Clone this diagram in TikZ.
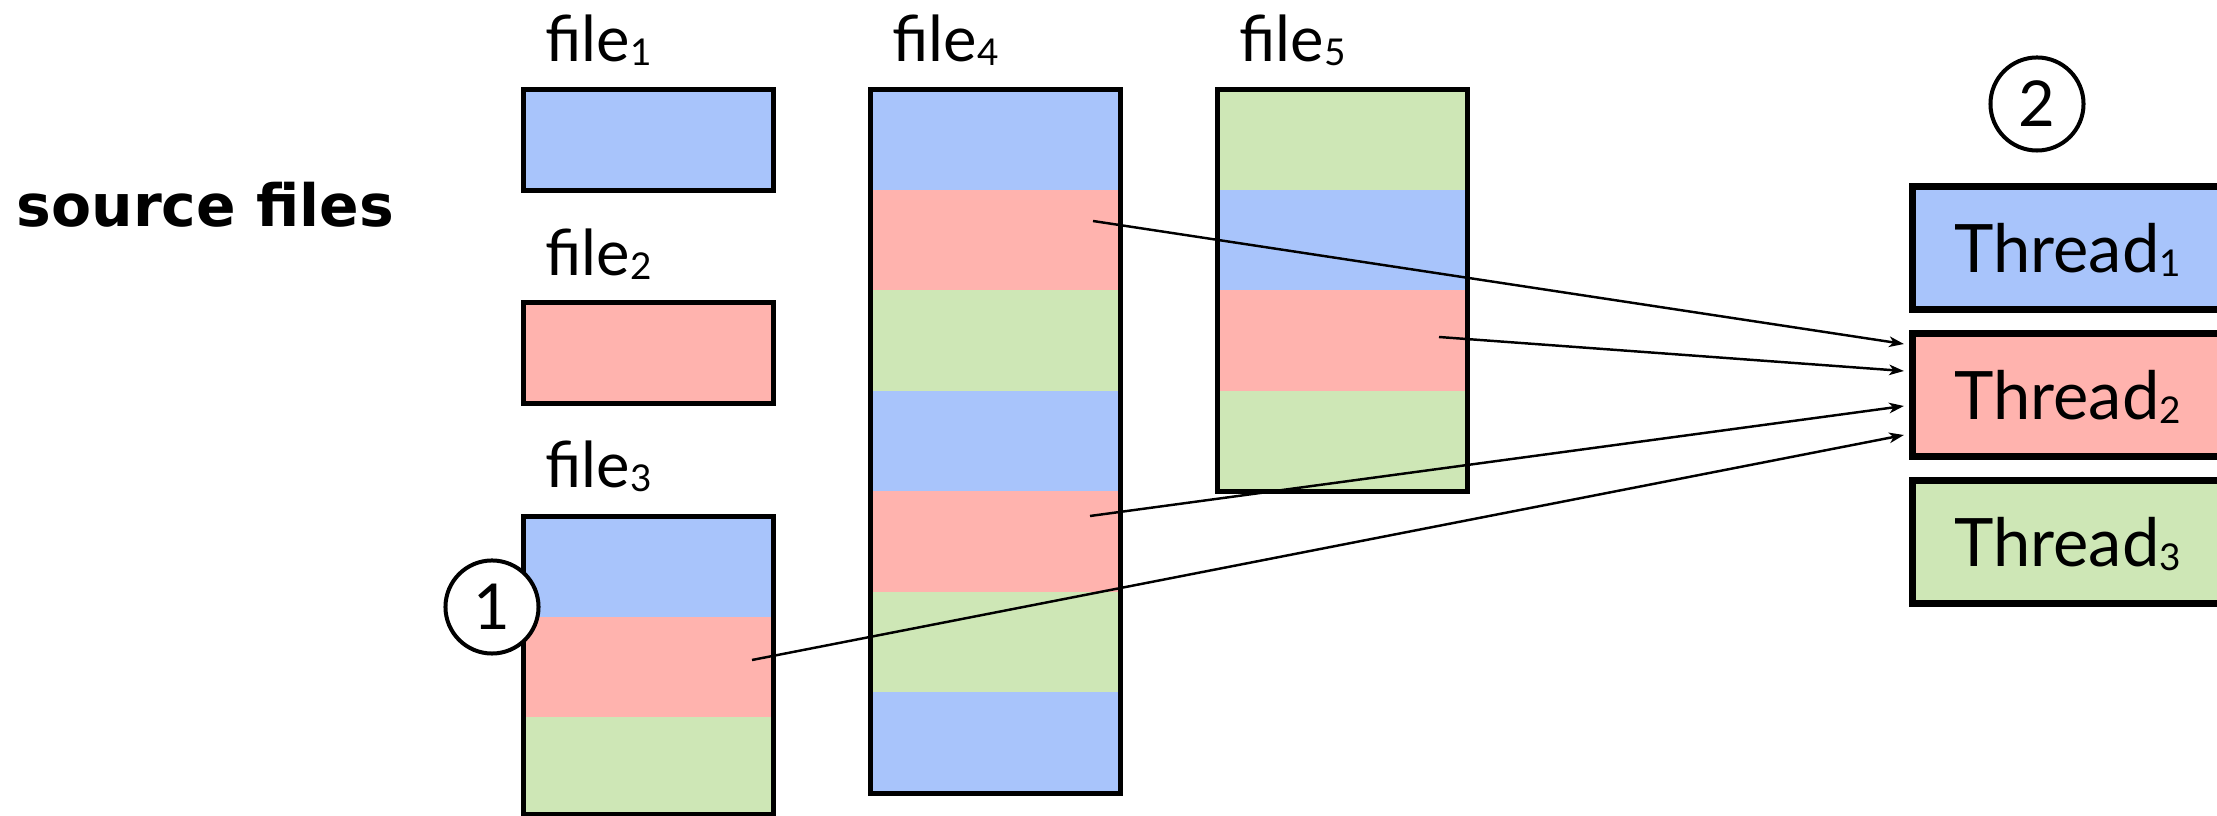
\documentclass[tikz,border=0pt]{standalone}
\usepackage{fontspec}
\setmainfont{Lato}
\newfontfamily\srcfont{DejaVu Sans}
\usetikzlibrary{arrows.meta,calc}
\definecolor{cblue}{RGB}{168,196,251}
\definecolor{cred}{RGB}{255,179,174}
\definecolor{cgreen}{RGB}{206,231,182}
\newcommand{\mysub}[1]{\raisebox{-0.06em}{\fontsize{10.5}{10.5}\selectfont #1}}
\tikzset{
  filebox/.style={draw, line width=1.42pt, minimum width=2.5cm, inner sep=0pt, outer sep=0pt, anchor=north west},
  lbl/.style={anchor=base west, inner sep=0pt, font=\fontsize{18}{20}\selectfont},
  threadbox/.style={draw, line width=2pt, minimum width=3.1cm, minimum height=1.23cm, inner sep=0pt,
    text height=13.7pt, text depth=0pt, font=\fontsize{19}{21}\selectfont},
  numcircle/.style={circle, draw, line width=1.14pt, fill=white, minimum size=0.93cm, inner sep=0pt,
    font=\fontsize{18}{20}\selectfont},
  conn/.style={line width=0.7pt, -{Stealth[length=4.2pt, width=3pt, inset=1.2pt]}}
}
\begin{document}
\begin{tikzpicture}[x=0.01cm, y=-0.01cm]
\useasboundingbox (0,0) rectangle (2217,816);
\clip (0,0) rectangle (2217,816);

% title
\node[anchor=base west, inner sep=0pt, font=\srcfont\bfseries\fontsize{16.6}{18}\selectfont] (src) at (16,227) {source files};

% labels
\node[lbl] (l1) at (545,62) {file\mysub{1}};
\node[lbl] (l2) at (545,276) {file\mysub{2}};
\node[lbl] (l3) at (545,488) {file\mysub{3}};
\node[lbl] (l4) at (892,62) {file\mysub{4}};
\node[lbl] (l5) at (1239,62) {file\mysub{5}};

% file1, file2
\node[filebox, fill=cblue, minimum height=1.005cm] (f1) at (523.5,89.5) {};
\node[filebox, fill=cred, minimum height=1.005cm] (f2) at (523.5,302.5) {};

% file3 stripes
\foreach \c [count=\i from 0] in {cblue,cred,cgreen}
  \fill[\c] (523.5,{516.5+100.5*\i}) rectangle (773.5,{516.5+100.5*(\i+1)});
\node[filebox, minimum height=2.975cm] (f3) at (523.5,516.5) {};

% file4 stripes
\foreach \c [count=\i from 0] in {cblue,cred,cgreen,cblue,cred,cgreen,cblue}
  \fill[\c] (870.5,{89.5+100.5*\i}) rectangle (1120.5,{89.5+100.5*(\i+1)});
\node[filebox, minimum height=7.035cm] (f4) at (870.5,89.5) {};

% file5 stripes
\foreach \c [count=\i from 0] in {cgreen,cblue,cred,cgreen}
  \fill[\c] (1217.5,{89.5+100.5*\i}) rectangle (1467.5,{89.5+100.5*(\i+1)});
\node[filebox, minimum height=4.02cm] (f5) at (1217.5,89.5) {};

% threads
\node[threadbox, fill=cblue] (t1) at (2067.5,248) {Thread\mysub{1}};
\node[threadbox, fill=cred] (t2) at (2067.5,395) {Thread\mysub{2}};
\node[threadbox, fill=cgreen] (t3) at (2067.5,542) {Thread\mysub{3}};

% connector starts
\coordinate (s1) at (1093,221);
\coordinate (s2) at (1439,337);
\coordinate (s3) at (1090,516);
\coordinate (s4) at (752,660);

\draw[conn] (s1) -- ($(t2.west)+(-5,-51)$);
\draw[conn] (s2) -- ($(t2.west)+(-5,-24)$);
\draw[conn] (s3) -- ($(t2.west)+(-5,11)$);
\draw[conn] (s4) -- ($(t2.west)+(-5,40)$);

% numbered circles
\node[numcircle] (c1) at (492,607) {1};
\node[numcircle] (c2) at (2037,104) {2};
\end{tikzpicture}
\end{document}
